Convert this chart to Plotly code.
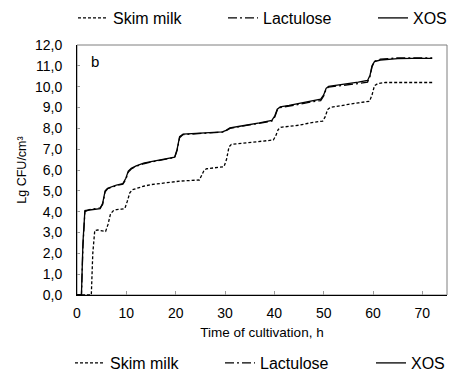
import plotly.graph_objects as go

# Cultivation time (h) and log counts for the two prebiotic media
hours_prebiotic = [0, 0.9, 1.2, 1.6, 2.5, 3.5, 4.7, 5.2, 5.7, 6.2,
                   7, 8, 9.3, 9.9, 10.4, 11.0, 12, 13.5, 15, 17,
                   19, 19.8, 20.3, 20.8, 21.5, 23, 25, 27, 29.5, 30.2,
                   31, 33, 35, 37, 39.5, 40.1, 40.6, 41.2, 43, 45,
                   47, 49.4, 50.0, 50.5, 51.0, 53, 55, 57, 58.9, 59.4,
                   59.8, 60.3, 61.5, 63, 65, 68, 72]
xos = [0, 0, 2.5, 4.05, 4.08, 4.12, 4.15, 4.4, 5.0, 5.12,
       5.2, 5.28, 5.35, 5.6, 5.95, 6.08, 6.2, 6.33, 6.4, 6.5,
       6.58, 6.62, 7.0, 7.6, 7.72, 7.74, 7.76, 7.79, 7.83, 7.9,
       8.02, 8.1, 8.17, 8.26, 8.38, 8.6, 8.92, 9.03, 9.1, 9.2,
       9.3, 9.4, 9.6, 9.92, 10.02, 10.08, 10.15, 10.22, 10.3, 10.55,
       11.0, 11.2, 11.28, 11.32, 11.35, 11.36, 11.36]
lactulose = [0, 0, 2.3, 4.0, 4.1, 4.15, 4.18, 4.35, 4.95, 5.1,
             5.18, 5.25, 5.32, 5.55, 5.9, 6.05, 6.18, 6.3, 6.38, 6.48,
             6.56, 6.6, 6.95, 7.55, 7.7, 7.73, 7.75, 7.78, 7.82, 7.88,
             8.0, 8.08, 8.15, 8.24, 8.35, 8.55, 8.88, 9.0, 9.06, 9.15,
             9.25, 9.33, 9.55, 9.88, 9.98, 10.03, 10.08, 10.15, 10.22, 10.5,
             10.95, 11.22, 11.32, 11.36, 11.38, 11.38, 11.38]

# Cultivation time (h) and log counts for plain skim milk
hours_skim = [0, 2.9, 3.2, 3.6, 4.2, 5, 5.8, 6.3, 6.8, 7.4,
              8, 9, 9.7, 10.2, 10.7, 11.2, 12, 13.5, 15, 18,
              21, 24.8, 25.3, 25.8, 26.3, 28, 29.8, 30.3, 30.8, 31.3,
              33, 35, 37, 39.8, 40.3, 40.8, 41.3, 43, 45, 47,
              49.8, 50.3, 50.8, 51.3, 53, 55, 57, 59.3, 59.8, 60.3,
              61, 62.5, 65, 68, 72]
skim_milk = [0, 0, 2.0, 3.1, 3.12, 3.08, 3.05, 3.4, 3.9, 4.05,
             4.1, 4.12, 4.15, 4.5, 4.9, 5.05, 5.12, 5.22, 5.3, 5.4,
             5.47, 5.52, 5.75, 6.0, 6.06, 6.1, 6.16, 6.5, 7.1, 7.23,
             7.27, 7.32, 7.37, 7.44, 7.65, 7.95, 8.05, 8.1, 8.15, 8.25,
             8.35, 8.55, 8.9, 9.0, 9.08, 9.15, 9.22, 9.3, 9.6, 10.05,
             10.15, 10.2, 10.2, 10.2, 10.2]

x_ticks = [0, 10, 20, 30, 40, 50, 60, 70]
y_ticks = [0, 1, 2, 3, 4, 5, 6, 7, 8, 9, 10, 11, 12]

FONT = "Liberation Sans, Arial, sans-serif"
W, H = 449, 381

series = [
    ("Skim milk", hours_skim, skim_milk, "3px,2px"),
    ("Lactulose", hours_prebiotic, lactulose, "9px,3px,2px,3px"),
    ("XOS", hours_prebiotic, xos, "solid"),
]

# one single-entry legend per key item: a row above the plot and a row below
top_x = [73, 223, 373]
bottom_x = [70, 220, 371]
top_y, bottom_y = 18, 363

fig = go.Figure()
legend_layouts = {}
n = 0
for row, (xs, yc) in enumerate([(top_x, top_y), (bottom_x, bottom_y)]):
    for (name, t, v, dash), lx in zip(series, xs):
        n += 1
        key = "legend" if n == 1 else f"legend{n}"
        fig.add_trace(go.Scatter(
            x=t if row == 0 else [None], y=v if row == 0 else [None],
            name=name, mode="lines",
            line=dict(color="black", width=1.3, dash=dash),
            legend=key, hoverinfo="skip" if row else None,
        ))
        legend_layouts[key] = dict(
            x=lx / W, y=1 - yc / H, xref="container", yref="container",
            xanchor="left", yanchor="middle", orientation="h",
            font=dict(family=FONT, size=16, color="black"),
            bgcolor="rgba(0,0,0,0)", itemwidth=30, borderwidth=0,
        )

fig.update_layout(
    width=W, height=H,
    margin=dict(l=77, r=2, t=45, b=86, autoexpand=False),
    paper_bgcolor="white", plot_bgcolor="white",
    separators=", ",
    font=dict(family=FONT, size=14, color="black"),
    showlegend=True,
    xaxis=dict(
        range=[0, 75], tickvals=x_ticks, showgrid=False, zeroline=False,
        showline=True, linecolor="black", linewidth=1,
        ticks="inside", ticklen=4, tickcolor="#999999",
        ticklabelstandoff=5,
        tickfont=dict(family=FONT, size=14),
        title=dict(text="Time of cultivation, h", standoff=7,
                   font=dict(family=FONT, size=13.5)),
    ),
    yaxis=dict(
        range=[0, 12], tickvals=y_ticks, tickformat=".1f",
        showgrid=False, zeroline=False,
        showline=True, linecolor="black", linewidth=1,
        ticks="inside", ticklen=3, tickcolor="#999999",
        ticklabelstandoff=11,
        tickfont=dict(family=FONT, size=14),
        title=dict(text="Lg CFU/cm³", standoff=5,
                   font=dict(family=FONT, size=12.5)),
    ),
    shapes=[dict(type="rect", xref="paper", yref="paper", x0=0, y0=0, x1=1, y1=1,
                 line=dict(color="#7f7f7f", width=1), layer="below")],
    annotations=[dict(text="b", xref="x", yref="y", x=3.7, y=11.2,
                      showarrow=False, font=dict(family=FONT, size=15))],
    **legend_layouts,
)

fig.write_html("out.html")
